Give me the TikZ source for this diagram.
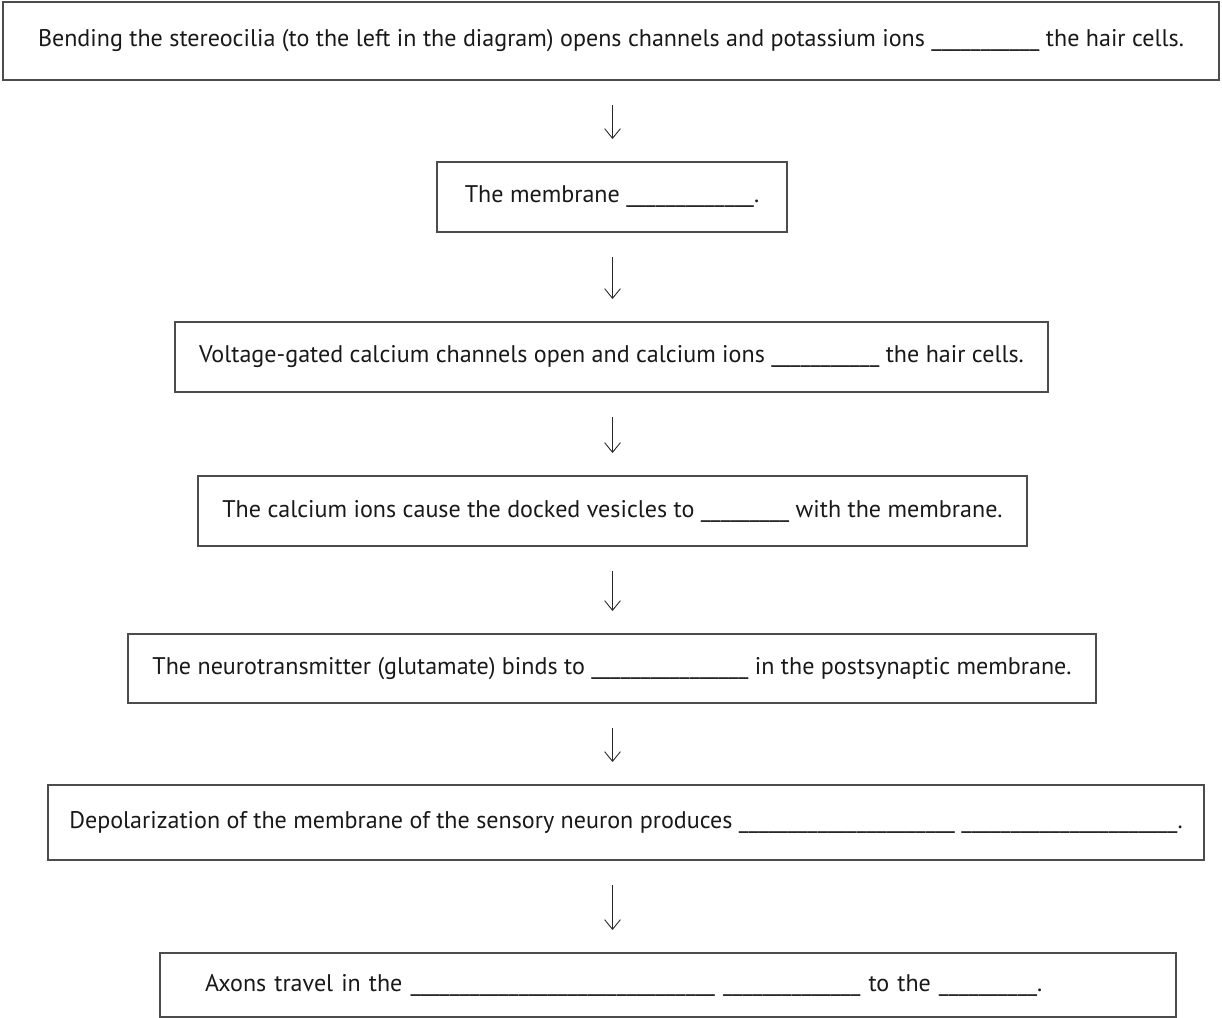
\documentclass[tikz,border=0pt]{standalone}
\usepackage{fontspec}
\setmainfont{PT Sans}
\usepackage{tikz}
\usetikzlibrary{arrows.meta,positioning}

\begin{document}
\begin{tikzpicture}[
        every node/.style={anchor=north west, draw=black!70, line width=0.6pt, outer sep=0, inner sep=0,
            text=black!90, font=\fontsize{13.7}{16}\selectfont},
        flow/.style={-{Straight Barb[length=5.5pt,width=9pt]}, line width=0.5pt, black!85,
            shorten <=0.5cm, shorten >=0.46cm},
    ]
        \useasboundingbox (0,0) rectangle (24.44,-20.36);
        \coordinate (mid) at (12.25,0);

        \node [minimum width=24.32cm, minimum height=1.56cm] (bend) at (0.06,-0.04)
            {Bending the stereocilia (to the left in the diagram) opens channels and potassium ions \_\_\_\_\_\_\_\_\_\_\_ the hair cells.};
        \node [minimum width=7cm, minimum height=1.4cm] (membrane) at (8.74,-3.24)
            {The membrane \_\_\_\_\_\_\_\_\_\_\_\_\_.};
        \node [minimum width=17.46cm, minimum height=1.4cm] (calcium) at (3.5,-6.44)
            {Voltage-gated calcium channels open and calcium ions \_\_\_\_\_\_\_\_\_\_\_ the hair cells.};
        \node [minimum width=16.58cm, minimum height=1.4cm] (fuse) at (3.96,-9.52)
            {The calcium ions cause the docked vesicles to \_\_\_\_\_\_\_\_\_ with the membrane.};
        \node [minimum width=19.36cm, minimum height=1.38cm] (bind) at (2.56,-12.68)
            {The neurotransmitter (glutamate) binds to \_\_\_\_\_\_\_\_\_\_\_\_\_\_\_\_ in the postsynaptic membrane.};
        \node [minimum width=23.12cm, minimum height=1.5cm] (depol) at (0.96,-15.7)
            {Depolarization of the membrane of the sensory neuron produces \_\_\_\_\_\_\_\_\_\_\_\_\_\_\_\_\_\_\_\_\_\_ \_\_\_\_\_\_\_\_\_\_\_\_\_\_\_\_\_\_\_\_\_\_.};
        \node [minimum width=20.32cm, minimum height=1.28cm, inner xsep=0.9cm, text width=18.52cm, align=left] (axons) at (3.2,-19.06)
            {Axons travel in the \_\_\_\_\_\_\_\_\_\_\_\_\_\_\_\_\_\_\_\_\_\_\_\_\_\_\_\_\_\_\_ \_\_\_\_\_\_\_\_\_\_\_\_\_\_ to the \_\_\_\_\_\_\_\_\_\_.};

        % arrows between the steps
        \draw [flow] (bend.south -| mid) -- (membrane.north -| mid);
        \draw [flow] (membrane.south -| mid) -- (calcium.north -| mid);
        \draw [flow] (calcium.south -| mid) -- (fuse.north -| mid);
        \draw [flow] (fuse.south -| mid) -- (bind.north -| mid);
        \draw [flow] (bind.south -| mid) -- (depol.north -| mid);
        \draw [flow] (depol.south -| mid) -- (axons.north -| mid);
    \end{tikzpicture}
\end{document}
